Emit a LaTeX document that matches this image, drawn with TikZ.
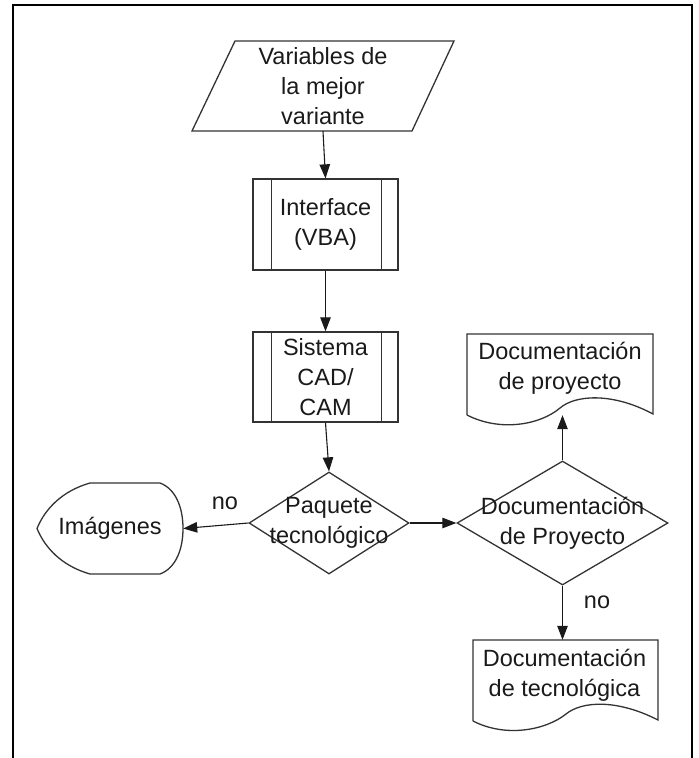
\documentclass[tikz,border=0pt]{standalone}
\usepackage{fontspec}
\setmainfont{Liberation Sans}
\usetikzlibrary{shapes.geometric,arrows.meta}
\definecolor{ink}{HTML}{333333}
\definecolor{txtc}{HTML}{1A1A1A}
\begin{document}
\begin{tikzpicture}[x=1pt,y=-1pt,
  shp/.style={draw=ink,line width=1.3pt},
  lbl/.style={font=\fontsize{23.5}{30}\selectfont,text=txtc,align=center,inner sep=0pt},
  procbox/.style={shp,lbl,minimum width=145pt,minimum height=90pt,inner sep=0pt},
  dec/.style={shp,diamond,inner sep=0pt},
  anchorbox/.style={draw=none,inner sep=0pt},
  arr/.style={draw=txtc,line width=1.1pt,-{Triangle[length=14pt,width=10.5pt]}}
]
\useasboundingbox (0,0) rectangle (699,758);
% frame
\draw[line width=2pt,black] (13,758) -- (13,5) -- (692,5) -- (692,758);

% input parallelogram
\node[anchorbox,minimum width=170pt,minimum height=90pt] (var) at (323,86) {};
\draw[shp] (235,41) -- (454,41) -- (412,131) -- (192,131) -- cycle;
\node[lbl] (vartext) at (var.center) {Variables de\\la mejor\\variante};

% predefined processes
\node[procbox,minimum height=91pt] (iface) at (325.5,224.5) {Interface\\(VBA)};
\draw[shp] ([xshift=19pt]iface.north west) -- ([xshift=19pt]iface.south west);
\draw[shp] ([xshift=-17pt]iface.north east) -- ([xshift=-17pt]iface.south east);

\node[procbox] (cad) at (325.5,377) {Sistema\\CAD/\\CAM};
\draw[shp] ([xshift=19pt]cad.north west) -- ([xshift=19pt]cad.south west);
\draw[shp] ([xshift=-17pt]cad.north east) -- ([xshift=-17pt]cad.south east);

% decision: paquete tecnologico
\node[dec,minimum width=160pt,minimum height=102pt] (paq) at (329,523) {};
\node[lbl] (paqtext) at (paq.center) {Paquete\\tecnológico};

% display: imagenes
\node[anchorbox,minimum width=146pt,minimum height=91pt] (img) at (110,528.5) {};
\draw[shp] (90,483) -- (160,483)
  .. controls (176,489) and (183,508) .. (183,528.5)
  .. controls (183,549) and (176,568) .. (160,574)
  -- (90,574)
  .. controls (62,566) and (45,548) .. (37,528.5)
  .. controls (45,509) and (62,491) .. (90,483);
\node[lbl] (imgtext) at (img.center) {Imágenes};

% decision: documentacion de proyecto
\node[dec,minimum width=211pt,minimum height=124pt] (docp) at (562.5,523) {};
\node[lbl] (docptext) at (docp.center) {Documentación\\de Proyecto};

% document: documentacion de proyecto
\node[anchorbox,minimum width=186pt,minimum height=81pt] (docproj) at (560,374.5) {};
\draw[shp] (467,415) -- (467,334) -- (653,334) -- (653,414)
  .. controls (612,392) and (575,395) .. (560,408)
  .. controls (540,425) and (500,432) .. (467,415);
\node[lbl] (docprojtext) at (560,368) {Documentación\\de proyecto};

% document: documentacion de tecnologica
\node[anchorbox,minimum width=185pt,minimum height=81pt] (doct) at (565.5,680.5) {};
\draw[shp] (473,721) -- (473,640) -- (658,640) -- (658,720)
  .. controls (617,699) and (582,701) .. (566,714)
  .. controls (546,730) and (506,738) .. (473,721);
\node[lbl] (docttext) at (564.5,675) {Documentación\\de tecnológica};

% connectors
\draw[arr] (var.south) -- (iface.north);
\draw[arr] (iface.south) -- (cad.north);
\draw[arr] (cad.south) -- (paq.north);
\draw[arr] (paq.west) -- (img.east);
\draw[arr] (paq.east) -- (docp.west);
\draw[arr] (docp.north) -- (docp.north |- docproj.south);
\draw[arr] (docp.south) -- (docp.south |- doct.north);

% labels
\node[lbl] (no1) at (225,503) {no};
\node[lbl] (no2) at (597,602) {no};
\end{tikzpicture}
\end{document}
